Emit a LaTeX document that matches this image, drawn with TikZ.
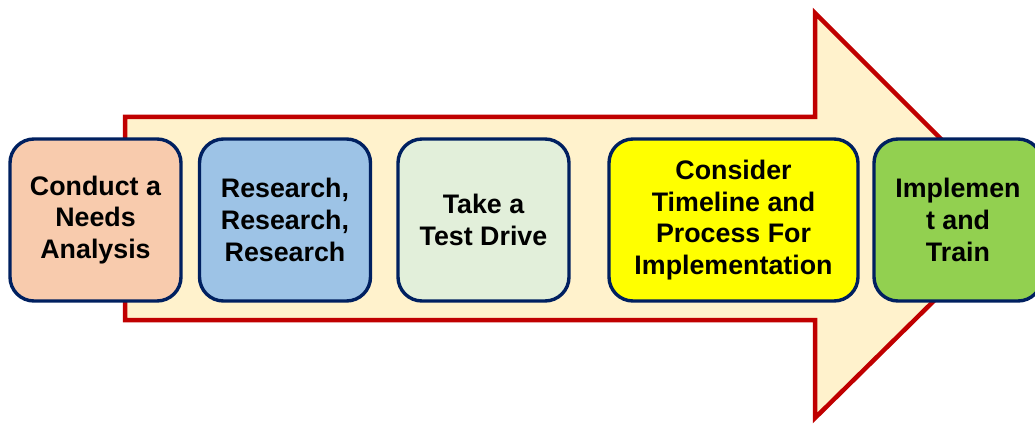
\documentclass[tikz,border=0pt]{standalone}
\usepackage{fontspec}
\setmainfont{Liberation Sans}
\definecolor{stgRed}{HTML}{C00000}
\definecolor{stgCream}{HTML}{FFF2CC}
\definecolor{stgNavy}{HTML}{002060}
\definecolor{stgPeach}{HTML}{F8CBAD}
\definecolor{stgBlue}{HTML}{9DC3E6}
\definecolor{stgMint}{HTML}{E2EFDA}
\definecolor{stgYellow}{HTML}{FFFF00}
\definecolor{stgGreen}{HTML}{92D050}
\tikzset{
  stg arrow/.style={draw=stgRed, fill=stgCream, line width=4.5pt, line join=miter},
  stg box/.style={draw=stgNavy, line width=3.4pt, rounded corners=24pt,
    minimum width=171pt, minimum height=162pt, inner sep=0pt, align=center,
    font=\fontsize{26.8}{31.8}\selectfont\bfseries, text=black},
}
\begin{document}
\begin{tikzpicture}[x=1pt,y=-1pt]
  \useasboundingbox (0,0) rectangle (1035,425);
  % Big process arrow behind the stages
  \draw[stg arrow] (125,117) -- (815,117) -- (815,13) -- (1019,217)
    -- (815,418) -- (815,320) -- (125,320) -- cycle;
  % Stages
  \node[stg box, fill=stgPeach] (needs) at (95.5,220) {Conduct a\\Needs\\Analysis};
  \node[stg box, fill=stgBlue] (research) at (285,220) {Research,\\Research,\\Research};
  \node[stg box, fill=stgMint] (drive) at (483.5,220) {Take a\\Test Drive};
  \node[stg box, fill=stgYellow, minimum width=249pt] (timeline) at (733.5,220)
    {Consider\\Timeline and\\Process For\\Implementation};
  \node[stg box, fill=stgGreen, minimum width=168pt] (train) at (958,220) {Implemen\\t and\\Train};
\end{tikzpicture}
\end{document}
